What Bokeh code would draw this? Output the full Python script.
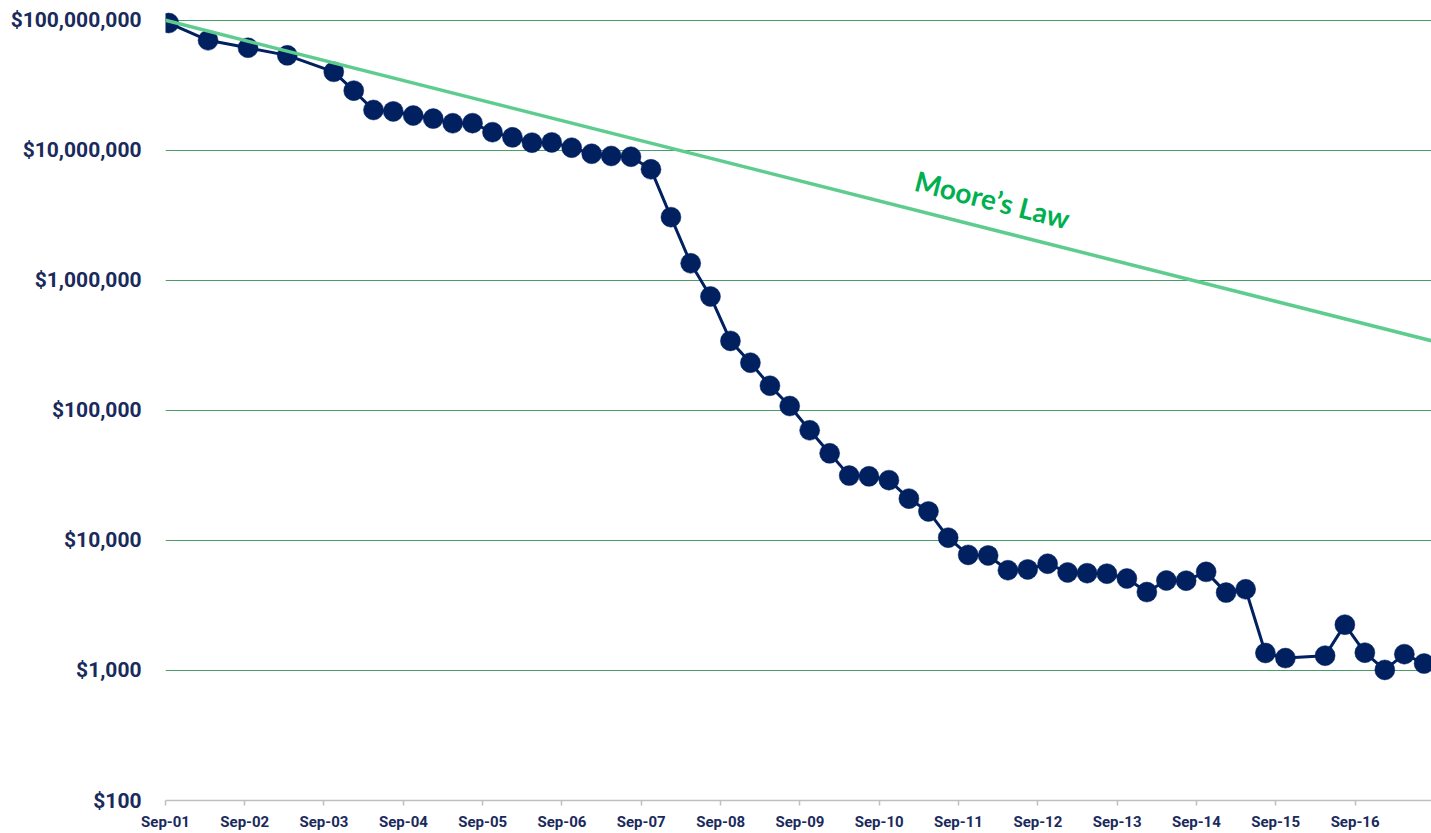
from datetime import datetime
from bokeh.plotting import figure
from bokeh.models import (ColumnDataSource, FixedTicker, NumeralTickFormatter,
                          DatetimeTickFormatter, Range1d)
from bokeh.core.properties import value
from bokeh.embed import file_html
from bokeh.resources import INLINE

# ---------------- data ----------------
months = ["2001-09", "2002-03", "2002-09", "2003-03", "2003-10",
          "2004-01", "2004-04", "2004-07", "2004-10",
          "2005-01", "2005-04", "2005-07", "2005-10",
          "2006-01", "2006-04", "2006-07", "2006-10",
          "2007-01", "2007-04", "2007-07", "2007-10",
          "2008-01", "2008-04", "2008-07", "2008-10",
          "2009-01", "2009-04", "2009-07", "2009-10",
          "2010-01", "2010-04", "2010-07", "2010-10",
          "2011-01", "2011-04", "2011-07", "2011-10",
          "2012-01", "2012-04", "2012-07", "2012-10",
          "2013-01", "2013-04", "2013-07", "2013-10",
          "2014-01", "2014-04", "2014-07", "2014-10",
          "2015-01", "2015-04", "2015-07", "2015-10",
          "2016-04", "2016-07", "2016-10",
          "2017-01", "2017-04", "2017-07"]
cost_per_genome = [95263072, 70175437, 61448422, 53751684, 40157554,
                   28780376, 20442576, 19934346, 18519312,
                   17534970, 16159699, 16180224, 13801124,
                   12585659, 11455315, 11512925, 10474556,
                   9408739, 9047002, 8927342, 7147571,
                   3063820, 1352982, 752080, 342502,
                   232735, 154714, 108065, 70333,
                   46774, 31512, 31125, 29092,
                   20963, 16712, 10497, 7743,
                   7666, 5901, 5985, 6618,
                   5671, 5600, 5550, 5096,
                   4008, 4920, 4905, 5731,
                   3970, 4211, 1363, 1245,
                   1300, 2250, 1370,
                   1010, 1335, 1130]

moore_dates = ["2001-09-01", "2017-08-19"]
moore_values = [100_000_000, 343_000]
moore_label = "Moore’s Law"

x_tick_dates = ["2001-09-01", "2002-09-01", "2003-09-01", "2004-09-01",
                "2005-09-01", "2006-09-01", "2007-09-01", "2008-09-01",
                "2009-09-01", "2010-09-01", "2011-09-01", "2012-09-01",
                "2013-09-01", "2014-09-01", "2015-09-01", "2016-09-01"]
y_ticks = [100, 1_000, 10_000, 100_000, 1_000_000, 10_000_000, 100_000_000]

# ---------------- helpers ----------------
EPOCH = datetime(1970, 1, 1)


def to_ms(d):
    return (d - EPOCH).total_seconds() * 1000.0


def parse_day(s):
    return datetime.strptime(s, "%Y-%m-%d")


def mid_month(s):
    y, m = s.split("-")
    return datetime(int(y), int(m), 16)


data_x = [mid_month(m) for m in months]
src = ColumnDataSource(dict(x=data_x, y=cost_per_genome))
moore_src = ColumnDataSource(dict(x=[parse_day(d) for d in moore_dates], y=moore_values))

NAVY = "#002060"
LABEL = "#1A2A5C"

p = figure(width=1431, height=833, x_axis_type="datetime", y_axis_type="log",
           output_backend="svg", toolbar_location=None,
           x_range=Range1d(parse_day(moore_dates[0]), parse_day(moore_dates[1])),
           y_range=Range1d(100, 1.42e8),
           min_border_left=165, min_border_right=0, min_border_top=0,
           min_border_bottom=0)
p.outline_line_color = None
p.background_fill_color = "white"

# grid
p.xgrid.grid_line_color = None
p.ygrid.grid_line_color = "#4A9D68"
p.ygrid.grid_line_width = 1

# y axis
p.yaxis.ticker = FixedTicker(ticks=y_ticks, minor_ticks=[])
p.yaxis.formatter = NumeralTickFormatter(format="$0,0")
p.yaxis.axis_line_color = None
p.yaxis.major_tick_line_color = None
p.yaxis.minor_tick_line_color = None
p.yaxis.major_label_text_font = "Roboto"
p.yaxis.major_label_text_font_style = "bold"
p.yaxis.major_label_text_font_size = "21px"
p.yaxis.major_label_text_color = LABEL
p.yaxis.major_label_standoff = 18

# x axis
p.xaxis.ticker = FixedTicker(ticks=[to_ms(parse_day(d)) for d in x_tick_dates], minor_ticks=[])
p.xaxis.formatter = DatetimeTickFormatter(days="%b-%y", months="%b-%y", years="%b-%y")
p.xaxis.axis_line_color = "#BFBFBF"
p.xaxis.axis_line_width = 1.5
p.xaxis.major_tick_line_color = "#BFBFBF"
p.xaxis.major_tick_line_width = 1.5
p.xaxis.major_tick_in = 0
p.xaxis.major_tick_out = 5
p.xaxis.minor_tick_line_color = None
p.xaxis.major_label_text_font = "Roboto"
p.xaxis.major_label_text_font_style = "bold"
p.xaxis.major_label_text_font_size = "15px"
p.xaxis.major_label_text_color = LABEL
p.xaxis.major_label_standoff = 7

# data
p.line("x", "y", source=src, line_color=NAVY, line_width=3)
p.scatter("x", "y", source=src, size=20, fill_color=NAVY, line_color=NAVY, line_width=0.5)

# Moore's law
p.line("x", "y", source=moore_src, line_color="#5ECC8F", line_width=3.5)

lbl = ColumnDataSource(dict(x=[datetime(2012, 2, 5)], y=[4.2e6], t=[moore_label]))
p.text("x", "y", text="t", source=lbl, angle=-0.248, text_align="center",
       text_baseline="middle", text_color="#00B050",
       text_font=value("Lato"), text_font_style="bold", text_font_size="28px")

open("out.html", "w").write(file_html(p, INLINE))
